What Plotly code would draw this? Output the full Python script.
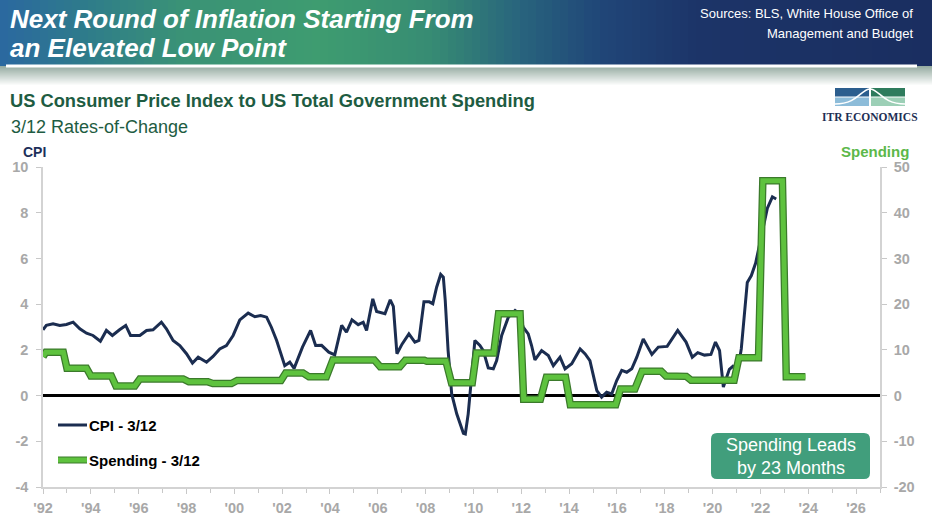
import plotly.graph_objects as go

# ---------------- data ----------------
cpi_years = [1992.00, 1992.14, 1992.42, 1992.70, 1992.98, 1993.26, 1993.54, 1993.82, 1994.09, 1994.40,
             1994.65, 1994.90, 1995.20, 1995.46, 1995.66, 1996.05, 1996.33, 1996.60, 1996.95, 1997.16,
             1997.44, 1997.72, 1998.00, 1998.25, 1998.49, 1998.84, 1999.11, 1999.39, 1999.67, 1999.95,
             2000.23, 2000.58, 2000.86, 2001.10, 2001.35, 2001.55, 2001.77, 2001.98, 2002.11, 2002.32,
             2002.50, 2002.85, 2003.19, 2003.40, 2003.65, 2003.95, 2004.20, 2004.49, 2004.69, 2004.92,
             2005.18, 2005.39, 2005.53, 2005.79, 2005.95, 2006.30, 2006.52, 2006.65, 2006.80, 2007.02,
             2007.30, 2007.55, 2007.72, 2007.93, 2008.15, 2008.30, 2008.46, 2008.63, 2008.74, 2008.82,
             2008.94, 2009.09, 2009.30, 2009.58, 2009.66, 2009.78, 2009.92, 2010.06, 2010.27, 2010.41,
             2010.62, 2010.83, 2010.97, 2011.18, 2011.46, 2011.74, 2011.92, 2012.08, 2012.29, 2012.43,
             2012.57, 2012.85, 2013.13, 2013.34, 2013.62, 2013.83, 2014.11, 2014.46, 2014.67, 2014.87,
             2015.16, 2015.36, 2015.57, 2015.78, 2015.99, 2016.20, 2016.41, 2016.62, 2016.83, 2017.10,
             2017.46, 2017.73, 2018.10, 2018.54, 2018.89, 2019.15, 2019.38, 2019.66, 2019.93, 2020.12,
             2020.29, 2020.45, 2020.70, 2020.85, 2021.05, 2021.20, 2021.45, 2021.62, 2021.80, 2021.98,
             2022.10, 2022.29, 2022.50, 2022.66]
cpi_values = [2.88, 3.07, 3.14, 3.07, 3.11, 3.21, 2.92, 2.73, 2.63, 2.38,
              2.85, 2.63, 2.88, 3.07, 2.63, 2.63, 2.85, 2.88, 3.21, 2.92,
              2.41, 2.19, 1.83, 1.42, 1.68, 1.46, 1.71, 2.04, 2.19, 2.63,
              3.31, 3.61, 3.45, 3.50, 3.43, 2.99, 2.41, 1.68, 1.31, 1.46,
              1.19, 2.12, 2.85, 2.19, 2.20, 1.90, 1.78, 3.07, 2.77, 3.31,
              3.10, 3.21, 2.85, 4.23, 3.68, 3.58, 4.19, 3.90, 1.83, 2.26,
              2.70, 2.34, 2.41, 4.10, 4.10, 4.02, 4.74, 5.30, 5.18, 4.16,
              1.97, 0.07, -0.80, -1.65, -1.68, -0.80, 0.95, 2.41, 2.19, 1.97,
              1.21, 1.17, 1.53, 2.63, 3.43, 3.72, 3.58, 2.99, 2.70, 2.19,
              1.56, 1.97, 1.75, 1.31, 1.68, 1.17, 1.39, 2.04, 1.82, 1.53,
              0.22, -0.07, 0.15, 0.07, 0.66, 1.10, 1.02, 1.17, 1.68, 2.48,
              1.80, 2.12, 2.15, 2.85, 2.34, 1.68, 1.88, 1.77, 1.80, 2.34,
              1.97, 0.37, 1.15, 1.28, 1.10, 2.05, 4.95, 5.25, 5.80, 6.70,
              7.30, 8.20, 8.69, 8.60]

spend_years = [1992.00, 1992.12, 1992.85, 1993.00, 1993.82, 1994.00, 1994.86, 1995.05, 1995.84, 1996.05,
               1997.86, 1998.10, 1998.90, 1999.10, 1999.88, 2000.12, 2001.95, 2002.15, 2002.87, 2003.12,
               2003.85, 2004.12, 2005.85, 2006.10, 2006.92, 2007.15, 2007.95, 2008.05, 2008.85, 2009.08,
               2009.95, 2010.12, 2010.85, 2011.05, 2011.95, 2012.10, 2012.80, 2013.05, 2013.85, 2014.05,
               2015.95, 2016.15, 2016.75, 2017.05, 2017.85, 2018.05, 2018.90, 2019.10, 2020.90, 2021.10,
               2021.92, 2022.10, 2022.92, 2023.08, 2023.88]
spend_values = [8.5, 9.48, 9.48, 6.0, 6.0, 4.3, 4.3, 2.1, 2.1, 3.65,
                3.65, 3.0, 3.0, 2.65, 2.65, 3.3, 3.3, 4.95, 4.95, 4.1,
                4.1, 7.8, 7.8, 6.3, 6.3, 7.7, 7.7, 7.5, 7.5, 2.8,
                2.8, 9.3, 9.3, 17.9, 17.9, -0.8, -0.8, 4.0, 4.0, -2.0,
                -2.0, 1.46, 1.46, 5.3, 5.3, 4.3, 4.2, 3.35, 3.35, 8.3,
                8.3, 47.0, 47.0, 4.1, 4.1]

tick_years = [1992, 1994, 1996, 1998, 2000, 2002, 2004, 2006, 2008, 2010,
              2012, 2014, 2016, 2018, 2020, 2022, 2024, 2026]
tick_labels = ["'92", "'94", "'96", "'98", "'00", "'02", "'04", "'06", "'08", "'10",
               "'12", "'14", "'16", "'18", "'20", "'22", "'24", "'26"]
cpi_ticks = [-4, -2, 0, 2, 4, 6, 8, 10]
spend_ticks = [-20, -10, 0, 10, 20, 30, 40, 50]

# ---------------- geometry helpers ----------------
FW, FH = 932, 516
L, R, T, B = 43, 52, 167, 29
PW, PH = FW - L - R, FH - T - B


def fx(px):
    return (px - L) / PW


def fy(py):
    return (FH - B - py) / PH


def bold(items):
    return ["<b>%s</b>" % v for v in items]


FONT = "Arial, 'Liberation Sans', sans-serif"

fig = go.Figure()
fig.add_trace(go.Scatter(x=cpi_years, y=cpi_values, mode="lines", yaxis="y",
                         line=dict(color="#1b2d50", width=3), hoverinfo="skip"))
fig.add_trace(go.Scatter(x=spend_years, y=spend_values, mode="lines", yaxis="y2",
                         line=dict(color="#3b7a2b", width=7.5), hoverinfo="skip"))
fig.add_trace(go.Scatter(x=spend_years, y=spend_values, mode="lines", yaxis="y2",
                         line=dict(color="#5ec23e", width=5), hoverinfo="skip"))

shapes = []


def lerp_color(stops, p):
    for i in range(len(stops) - 1):
        p0, c0 = stops[i]
        p1, c1 = stops[i + 1]
        if p0 <= p <= p1:
            t = (p - p0) / (p1 - p0)
            return tuple(round(c0[k] + (c1[k] - c0[k]) * t) for k in range(3))
    return stops[-1][1]


hdr_stops = [(0, (43, 104, 160)), (80, (46, 122, 140)), (180, (58, 146, 118)),
             (320, (62, 156, 112)), (430, (55, 140, 115)), (520, (40, 100, 125)),
             (600, (32, 70, 120)), (700, (28, 52, 104)), (932, (26, 46, 96))]
step = 8
for x0 in range(0, FW, step):
    c = lerp_color(hdr_stops, x0 + step / 2)
    shapes.append(dict(type="rect", xref="paper", yref="paper",
                       x0=fx(x0), x1=fx(x0 + step + 0.6), y0=fy(0), y1=fy(66),
                       fillcolor="rgb(%d,%d,%d)" % c, line=dict(width=0), layer="above"))
# fade below header
for i in range(20):
    t = i / 19
    c = tuple(round(a + (255 - a) * t) for a in (150, 172, 162))
    shapes.append(dict(type="rect", xref="paper", yref="paper",
                       x0=fx(0), x1=fx(FW), y0=fy(66 + i), y1=fy(67.2 + i),
                       fillcolor="rgb(%d,%d,%d)" % c, line=dict(width=0), layer="above"))
# white rule
shapes.append(dict(type="line", xref="paper", yref="paper", x0=fx(6), x1=fx(917),
                   y0=fy(66), y1=fy(66), line=dict(color="white", width=3), layer="above"))

# logo
shapes += [
    dict(type="rect", xref="paper", yref="paper", x0=fx(835), x1=fx(869), y0=fy(88), y1=fy(96.5),
         fillcolor="#2c5e8e", line=dict(width=0), layer="above"),
    dict(type="rect", xref="paper", yref="paper", x0=fx(835), x1=fx(869), y0=fy(97.5), y1=fy(106),
         fillcolor="#8dbcd9", line=dict(width=0), layer="above"),
    dict(type="rect", xref="paper", yref="paper", x0=fx(871), x1=fx(905), y0=fy(88), y1=fy(96.5),
         fillcolor="#2e7b5c", line=dict(width=0), layer="above"),
    dict(type="rect", xref="paper", yref="paper", x0=fx(871), x1=fx(905), y0=fy(97.5), y1=fy(106),
         fillcolor="#9ccfb6", line=dict(width=0), layer="above"),
]
curve = "M %f,%f C %f,%f %f,%f %f,%f C %f,%f %f,%f %f,%f" % (
    fx(835), fy(104), fx(858), fy(104), fx(861), fy(89), fx(870), fy(89),
    fx(879), fy(89), fx(882), fy(104), fx(905), fy(104))
shapes.append(dict(type="path", xref="paper", yref="paper", path=curve,
                   line=dict(color="white", width=1.6), layer="above"))

# legend keys
shapes.append(dict(type="line", xref="paper", yref="paper", x0=fx(58), x1=fx(87), y0=fy(425), y1=fy(425),
                   line=dict(color="#1b2d50", width=3), layer="above"))
shapes.append(dict(type="line", xref="paper", yref="paper", x0=fx(58), x1=fx(87), y0=fy(460), y1=fy(460),
                   line=dict(color="#3b7a2b", width=7), layer="above"))
shapes.append(dict(type="line", xref="paper", yref="paper", x0=fx(58), x1=fx(87), y0=fy(460), y1=fy(460),
                   line=dict(color="#5ec23e", width=5), layer="above"))

# call-out box (rounded)
bx0, bx1, by0, by1, rr = 711, 870, 433, 479, 6
box = ("M %f,%f L %f,%f Q %f,%f %f,%f L %f,%f Q %f,%f %f,%f L %f,%f Q %f,%f %f,%f L %f,%f Q %f,%f %f,%f Z" % (
    fx(bx0 + rr), fy(by0), fx(bx1 - rr), fy(by0), fx(bx1), fy(by0), fx(bx1), fy(by0 + rr),
    fx(bx1), fy(by1 - rr), fx(bx1), fy(by1), fx(bx1 - rr), fy(by1),
    fx(bx0 + rr), fy(by1), fx(bx0), fy(by1), fx(bx0), fy(by1 - rr),
    fx(bx0), fy(by0 + rr), fx(bx0), fy(by0), fx(bx0 + rr), fy(by0)))
shapes.append(dict(type="path", xref="paper", yref="paper", path=box,
                   fillcolor="#419e7c", line=dict(width=0), layer="above"))

annotations = []


def ann(text, px, py, xa="left", ya="middle", size=14, color="black", align="left"):
    annotations.append(dict(text=text, x=fx(px), y=fy(py), xref="paper", yref="paper",
                            xanchor=xa, yanchor=ya, showarrow=False, align=align,
                            font=dict(family=FONT, size=size, color=color)))


ann("<b><i>Next Round of Inflation Starting From</i></b>", 8, 19, size=26, color="white")
ann("<b><i>an Elevated Low Point</i></b>", 8, 48, size=26, color="white")
ann("Sources: BLS, White House Office of", 915, 13, xa="right", size=13, color="white")
ann("Management and Budget", 915, 33, xa="right", size=13, color="white")
ann("<b>US Consumer Price Index to US Total Government Spending</b>", 8, 101, size=18.3, color="#1e5c42")
ann("3/12 Rates-of-Change", 9, 127, size=18, color="#1e5c42")
ann("<b>ITR ECONOMICS</b>", 870, 117.5, xa="center", size=11.5, color="#1e2f55")
annotations[-1]["font"]["family"] = "'Liberation Serif', 'DejaVu Serif', serif"
ann("<b>CPI</b>", 21, 152, size=14, color="#1d2f5a")
ann("<b>Spending</b>", 911, 151, xa="right", size=15, color="#5cb84a")
ann("<b>CPI - 3/12</b>", 87, 425, size=15, color="black")
ann("<b>Spending - 3/12</b>", 87, 460, size=15, color="black")
ann("Spending Leads<br>by 23 Months", (bx0 + bx1) / 2, (by0 + by1) / 2 + 0.5, xa="center",
    size=18, color="white", align="center")

axis_common = dict(showgrid=False, showline=True, linecolor="#d3d3d3", linewidth=1.5,
                   ticks="outside", ticklen=5, tickwidth=1, tickcolor="#c8c8c8", automargin=False,
                   tickfont=dict(family=FONT, size=14.5, color="#a8a8a8"))

fig.update_layout(
    width=FW, height=FH,
    margin=dict(l=L, r=R, t=T, b=B, pad=0, autoexpand=False),
    paper_bgcolor="white", plot_bgcolor="white",
    showlegend=False,
    shapes=shapes, annotations=annotations,
    xaxis=dict(range=[1992, 2027], tickmode="array", tickvals=tick_years, ticktext=bold(tick_labels),
               zeroline=False, ticklabelstandoff=2,
               minor=dict(tickmode="linear", tick0=1992, dtick=1, ticks="outside", ticklen=4,
                          tickcolor="#c8c8c8", showgrid=False),
               **axis_common),
    yaxis=dict(range=[-4, 10], tickmode="array", tickvals=cpi_ticks, ticktext=bold(cpi_ticks),
               zeroline=True, zerolinecolor="black", zerolinewidth=2.5, ticklabelstandoff=5,
               **axis_common),
    yaxis2=dict(range=[-20, 50], tickmode="array", tickvals=spend_ticks, ticktext=bold(spend_ticks),
                overlaying="y", side="right",
                zeroline=False, ticklabelstandoff=4, **axis_common),
)

fig.write_html("out.html", config={"displayModeBar": False},
               post_script="document.body.style.margin='0px';document.body.style.overflow='hidden';")
